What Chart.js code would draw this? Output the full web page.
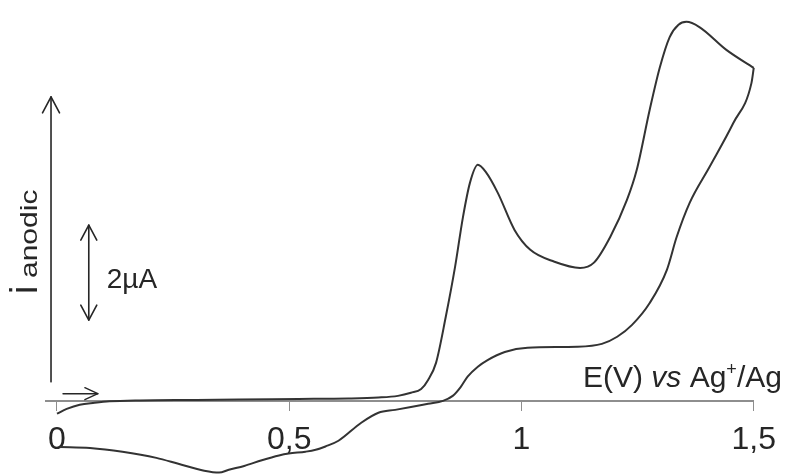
<!DOCTYPE html>
<html>
<head>
<meta charset="utf-8">
<script src="https://cdn.jsdelivr.net/npm/chart.js@4/dist/chart.umd.min.js"></script>
<style>
  html, body { margin: 0; padding: 0; background: #fff; }
  #wrap { width: 787px; height: 474px; position: relative; }
</style>
</head>
<body>
<div id="wrap"><canvas id="cv" width="787" height="474"></canvas></div>
<script>
// Cyclic voltammogram: potential E (V vs Ag+/Ag) and anodic current (µA)

// Forward (anodic) sweep, 0 V -> 1.5 V
const forwardE = [0, 0.021, 0.049, 0.081, 0.113, 0.178, 0.30, 0.392, 0.520, 0.627,
  0.692, 0.734, 0.762, 0.784, 0.799, 0.816, 0.837, 0.857, 0.874, 0.889,
  0.906, 0.923, 0.949, 0.985, 1.019, 1.071, 1.126, 1.156, 1.191, 1.227,
  1.248, 1.276, 1.298, 1.319, 1.338, 1.355, 1.383, 1.441, 1.5];
const forwardI = [-0.27, -0.17, -0.08, -0.04, -0.01, 0.01, 0.02, 0.03, 0.04, 0.05,
  0.07, 0.105, 0.17, 0.25, 0.44, 0.80, 1.77, 2.82, 3.87, 4.59,
  4.97, 4.82, 4.38, 3.60, 3.18, 2.93, 2.80, 2.91, 3.45, 4.23,
  4.86, 6.13, 7.03, 7.66, 7.92, 7.98, 7.87, 7.39, 7.01];

// Reverse sweep, 1.5 V -> 0 V
const reverseE = [1.5, 1.495, 1.456, 1.405, 1.362, 1.334, 1.313, 1.276, 1.238, 1.206,
  1.173, 1.120, 1.013, 0.964, 0.927, 0.906, 0.884, 0.869, 0.852, 0.831,
  0.799, 0.762, 0.728, 0.692, 0.655, 0.606, 0.578, 0.557, 0.535, 0.499,
  0.478, 0.441, 0.403, 0.370, 0.349, 0.317, 0.263, 0.214, 0.141, 0.071, 0.006];
const reverseI = [7.01, 6.69, 5.85, 4.93, 4.17, 3.45, 2.76, 2.06, 1.60, 1.35,
  1.20, 1.14, 1.12, 1.03, 0.86, 0.72, 0.51, 0.29, 0.105, 0.0,
  -0.06, -0.13, -0.19, -0.25, -0.46, -0.84, -0.96, -1.03, -1.07, -1.11,
  -1.15, -1.25, -1.37, -1.45, -1.51, -1.47, -1.33, -1.20, -1.07, -0.99, -0.97];

// Potential axis ticks
const xTicks = [0, 0.5, 1, 1.5];
const xTickLabels = ['0', '0,5', '1', '1,5'];

// Current scale bar (µA)
const scaleBarFrom = 1.7;
const scaleBarSize = 2;
const scaleBarLabel = '2µA';

const FONT = '"Liberation Sans", Arial, sans-serif';
const INK = '#262626';
const CURVE = '#333333';
const AXIS = '#8e8e8e';

const toPoints = (xs, ys) => xs.map((v, k) => ({ x: v, y: ys[k] }));

function arrowHead(ctx, x1, y1, x2, y2, len, half) {
  const a = Math.atan2(y2 - y1, x2 - x1);
  const bx = x2 - len * Math.cos(a), by = y2 - len * Math.sin(a);
  const nx = -Math.sin(a) * half, ny = Math.cos(a) * half;
  ctx.beginPath();
  ctx.moveTo(bx + nx, by + ny);
  ctx.lineTo(x2, y2);
  ctx.lineTo(bx - nx, by - ny);
  ctx.stroke();
}

function line(ctx, x1, y1, x2, y2) {
  ctx.beginPath();
  ctx.moveTo(x1, y1);
  ctx.lineTo(x2, y2);
  ctx.stroke();
}

// Arrows, scale bar and axis captions
const annotations = {
  id: 'annotations',
  afterDraw(chart) {
    const { ctx, scales: { x, y } } = chart;
    ctx.save();
    ctx.strokeStyle = INK;
    ctx.fillStyle = INK;
    ctx.lineWidth = 1.6;
    ctx.lineCap = 'round';
    ctx.lineJoin = 'round';

    // current axis arrow
    const ax = x.getPixelForValue(-0.0128);
    const ay0 = y.getPixelForValue(0.4), ay1 = y.getPixelForValue(6.4);
    line(ctx, ax, ay0, ax, ay1);
    arrowHead(ctx, ax, ay0, ax, ay1, 16, 8.5);

    // scale bar
    const bx = x.getPixelForValue(0.0685);
    const by0 = y.getPixelForValue(scaleBarFrom);
    const by1 = y.getPixelForValue(scaleBarFrom + scaleBarSize);
    line(ctx, bx, by0, bx, by1);
    arrowHead(ctx, bx, by0, bx, by1, 15, 8);
    arrowHead(ctx, bx, by1, bx, by0, 15, 8);
    ctx.font = '28px ' + FONT;
    ctx.textAlign = 'left';
    ctx.textBaseline = 'alphabetic';
    ctx.fillText(scaleBarLabel, bx + 18, (by0 + by1) / 2 + 15);

    // sweep direction arrow
    const sy = y.getPixelForValue(0.15);
    const sx0 = x.getPixelForValue(0.013), sx1 = x.getPixelForValue(0.088);
    ctx.lineWidth = 1.4;
    line(ctx, sx0, sy, sx1, sy);
    arrowHead(ctx, sx0, sy, sx1, sy, 13, 6);

    // vertical caption "i anodic"
    ctx.save();
    ctx.translate(37, 294);
    ctx.rotate(-Math.PI / 2);
    ctx.font = '38px ' + FONT;
    ctx.fillText('i', 0, 0);
    ctx.translate(16, 0);
    ctx.scale(1.25, 1);
    ctx.font = '24px ' + FONT;
    ctx.fillText('anodic', 0, 0);
    ctx.restore();

    // potential axis caption "E(V) vs Ag+/Ag"
    let tx = 583;
    const ty = 387;
    const parts = [
      ['E(V) ', '30px ' + FONT, 0],
      ['vs', 'italic 30px ' + FONT, 0],
      [' Ag', '30px ' + FONT, 0],
      ['+', '18px ' + FONT, -12],
      ['/Ag', '30px ' + FONT, 0]
    ];
    for (const [txt, font, dy] of parts) {
      ctx.font = font;
      ctx.fillText(txt, tx, ty + dy);
      tx += ctx.measureText(txt).width;
    }
    ctx.restore();
  }
};

const lineStyle = {
  borderColor: CURVE,
  borderWidth: 2,
  pointRadius: 0,
  showLine: true,
  fill: false,
  cubicInterpolationMode: 'monotone',
  clip: false
};

new Chart(document.getElementById('cv'), {
  type: 'scatter',
  data: {
    datasets: [
      Object.assign({ label: 'forward', data: toPoints(forwardE, forwardI) }, lineStyle),
      Object.assign({ label: 'reverse', data: toPoints(reverseE, reverseI) }, lineStyle)
    ]
  },
  options: {
    responsive: false,
    animation: false,
    events: [],
    layout: { padding: { left: 46, right: 30, top: 10, bottom: 0 } },
    plugins: { legend: { display: false }, tooltip: { enabled: false } },
    scales: {
      x: {
        type: 'linear',
        position: { y: 0 },
        min: -0.0236,
        max: 1.5,
        afterFit(scale) { scale.height = 0; },
        afterBuildTicks(scale) { scale.ticks = xTicks.map(v => ({ value: v })); },
        grid: { drawOnChartArea: false, drawTicks: true, tickLength: 9, color: AXIS, lineWidth: 1 },
        border: { display: true, color: AXIS, width: 2 },
        ticks: {
          autoSkip: false,
          maxRotation: 0,
          padding: 11,
          color: INK,
          font: { family: FONT, size: 32 },
          callback: (v, k) => xTickLabels[k]
        }
      },
      y: {
        type: 'linear',
        display: false,
        min: -1.54,
        max: 8.23
      }
    }
  },
  plugins: [annotations]
});
</script>
</body>
</html>
